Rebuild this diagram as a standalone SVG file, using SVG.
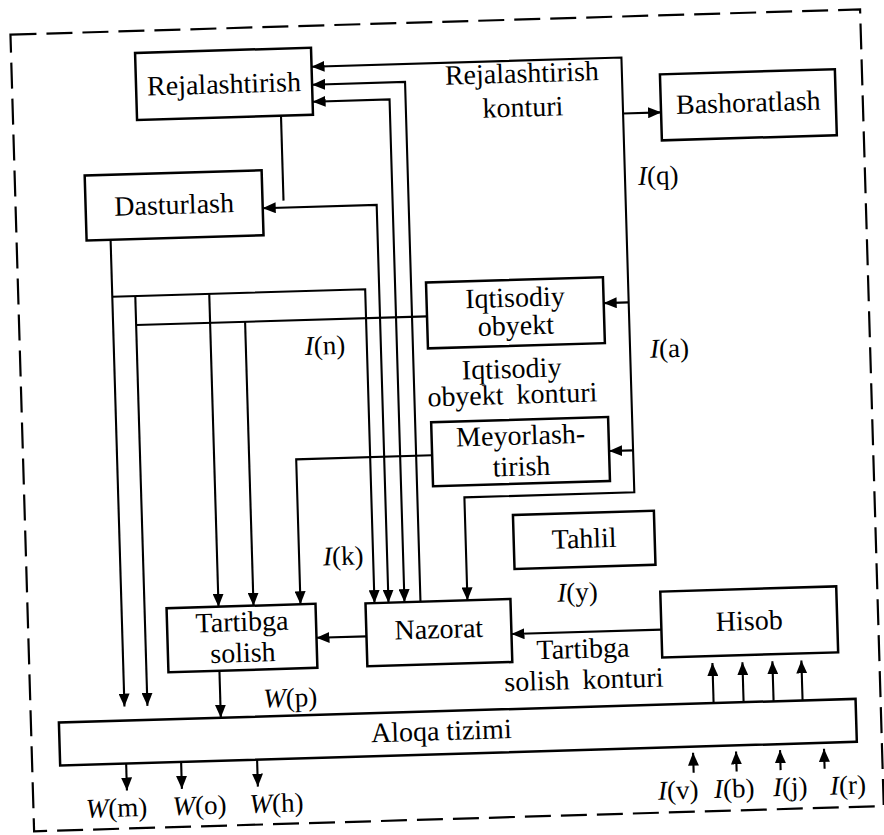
<svg xmlns="http://www.w3.org/2000/svg" width="884" height="835" viewBox="0 0 884 835">
<style>
.bx{fill:#fff;stroke:#000;stroke-width:2.5}
.ln{fill:none;stroke:#000;stroke-width:2.1}
.t{font-family:"Liberation Serif","Times New Roman",serif;font-size:28px;fill:#000}
.m{text-anchor:middle}
.l{font-family:"Liberation Serif","Times New Roman",serif;font-size:27px;fill:#000}
.i{font-style:italic}
</style>
<defs>
<marker id="ah" viewBox="0 0 13 11" refX="13" refY="5.5" markerWidth="13" markerHeight="11" markerUnits="userSpaceOnUse" orient="auto-start-reverse"><path d="M0,0 L13,5.5 L0,11 z" fill="#000"/></marker>
</defs>
<rect width="884" height="835" fill="#fff"/>
<g transform="rotate(-1.7 442 417)">
<rect id="border" x="22" y="22" width="850" height="797" fill="none" stroke="#000" stroke-width="2.2" stroke-dasharray="26 10"/>
<g id="connectors">
<path class="ln" d="M322,63 H632 V498 H462 V601" marker-start="url(#ah)" marker-end="url(#ah)"/>
<path class="ln" d="M632,119 H670" marker-end="url(#ah)"/>
<path class="ln" d="M632,308 H607" marker-end="url(#ah)"/>
<path class="ln" d="M632,456 H608" marker-end="url(#ah)"/>
<path class="ln" d="M290,111 V196"/>
<path class="ln" d="M269,203 H383 V601" marker-start="url(#ah)" marker-end="url(#ah)"/>
<path class="ln" d="M322,98 H399 V601" marker-start="url(#ah)" marker-end="url(#ah)"/>
<path class="ln" d="M322,81 H415 V601" marker-start="url(#ah)"/>
<path class="ln" d="M116,287 H369 V601" marker-end="url(#ah)"/>
<path class="ln" d="M116,230 V697" marker-end="url(#ah)"/>
<path class="ln" d="M139,287 V697" marker-end="url(#ah)"/>
<path class="ln" d="M213,287 V600" marker-end="url(#ah)"/>
<path class="ln" d="M430,316 H139"/>
<path class="ln" d="M248,316 V600" marker-end="url(#ah)"/>
<path class="ln" d="M431,455 H295 V600" marker-end="url(#ah)"/>
<path class="ln" d="M360,634 H310" marker-end="url(#ah)"/>
<path class="ln" d="M655,636 H505" marker-end="url(#ah)"/>
<path class="ln" d="M212,664 V711" marker-end="url(#ah)"/>
<path class="ln" d="M705,711 V671" marker-end="url(#ah)"/>
<path class="ln" d="M735,711 V671" marker-end="url(#ah)"/>
<path class="ln" d="M765,711 V671" marker-end="url(#ah)"/>
<path class="ln" d="M794,711 V671" marker-end="url(#ah)"/>
<path class="ln" d="M116,754 V781" marker-end="url(#ah)"/>
<path class="ln" d="M171,754 V781" marker-end="url(#ah)"/>
<path class="ln" d="M247,754 V781" marker-end="url(#ah)"/>
<path class="ln" d="M683,780 V760" marker-end="url(#ah)"/>
<path class="ln" d="M726,780 V760" marker-end="url(#ah)"/>
<path class="ln" d="M770,780 V760" marker-end="url(#ah)"/>
<path class="ln" d="M814,780 V760" marker-end="url(#ah)"/>
</g>
<g id="rejalashtirish"><rect class="bx" x="146" y="44" width="176" height="67"/><text class="t m" x="234" y="87">Rejalashtirish</text></g>
<g id="dasturlash"><rect class="bx" x="92" y="165" width="177" height="65"/><text class="t m" x="180.5" y="206">Dasturlash</text></g>
<g id="bashoratlash"><rect class="bx" x="670" y="81" width="175" height="66"/><text class="t m" x="757.5" y="121">Bashoratlash</text></g>
<g id="iqtisodiy-obyekt"><rect class="bx" x="430" y="282" width="177" height="66"/><text class="t m" x="518.5" y="309">Iqtisodiy</text><text class="t m" x="518.5" y="337">obyekt</text></g>
<g id="meyorlashtirish"><rect class="bx" x="431" y="422" width="177" height="64"/><text class="t m" x="520" y="447">Meyorlash-</text><text class="t m" x="520" y="478">tirish</text></g>
<g id="tahlil"><rect class="bx" x="510" y="517" width="141" height="54"/><text class="t m" x="580.5" y="552">Tahlil</text></g>
<g id="hisob"><rect class="bx" x="655" y="598" width="176" height="66"/><text class="t m" x="743" y="639">Hisob</text></g>
<g id="nazorat"><rect class="bx" x="360" y="601" width="145" height="63"/><text class="t m" x="432.5" y="638">Nazorat</text></g>
<g id="tartibga-solish"><rect class="bx" x="161" y="600" width="149" height="64"/><text class="t m" x="236" y="625">Tartibga</text><text class="t m" x="236" y="656">solish</text></g>
<g id="aloqa-tizimi"><rect class="bx" x="50" y="711" width="797" height="43"/><text class="t m" x="432" y="740">Aloqa tizimi</text></g>
<g id="labels">
<text class="t m" x="532" y="85">Rejalashtirish</text>
<text class="t m" x="532" y="119">konturi</text>
<text class="t m" x="513" y="380">Iqtisodiy</text>
<text class="t m" x="513" y="406" word-spacing="6">obyekt konturi</text>
<text class="t m" x="576" y="662">Tartibga</text>
<text class="t m" x="576" y="693" word-spacing="6">solish konturi</text>
<text class="l" x="645" y="191"><tspan class="i">I</tspan>(q)</text>
<text class="l" x="307" y="351"><tspan class="i">I</tspan>(n)</text>
<text class="l" x="652" y="364"><tspan class="i">I</tspan>(a)</text>
<text class="l" x="319" y="562"><tspan class="i">I</tspan>(k)</text>
<text class="l" x="552" y="605"><tspan class="i">I</tspan>(y)</text>
<text class="l" x="255" y="702"><tspan class="i">W</tspan>(p)</text>
<text class="l m" x="105" y="807"><tspan class="i">W</tspan>(m)</text>
<text class="l m" x="188" y="807"><tspan class="i">W</tspan>(o)</text>
<text class="l m" x="265" y="807"><tspan class="i">W</tspan>(h)</text>
<text class="l m" x="667" y="806"><tspan class="i">I</tspan>(v)</text>
<text class="l m" x="723" y="806"><tspan class="i">I</tspan>(b)</text>
<text class="l m" x="779" y="806"><tspan class="i">I</tspan>(j)</text>
<text class="l m" x="837" y="806"><tspan class="i">I</tspan>(r)</text>
</g>
</g>
</svg>
